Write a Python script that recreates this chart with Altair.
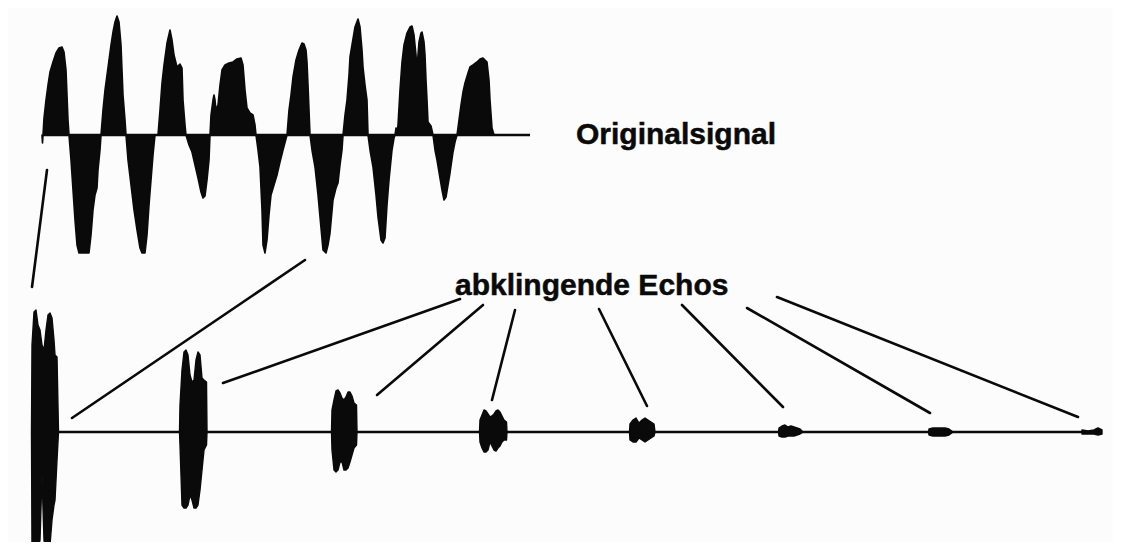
import altair as alt
import pandas as pd

# ---------------- data (figure units, y grows downward) ----------------
# Original signal: outline of the filled waveform around its zero line
wave_x = [42, 42.5, 43, 44, 46, 48, 50, 53, 56, 59, 62, 64, 66, 67, 68, 69,
          71, 73, 75, 77, 79, 84, 89, 91, 93, 95, 97, 98, 100, 101,
          103, 105, 107, 109, 111, 113, 115, 117, 119, 121, 122, 123, 125, 126,
          128, 131, 134, 137, 140, 142, 145, 147, 149, 151, 153, 155,
          158, 160, 162, 164, 167, 170, 172, 174, 177, 180, 182, 183, 185, 186,
          189, 192, 195, 198, 201, 203, 205, 207, 209, 210,
          211, 213, 214, 215, 216, 218, 220, 222, 225, 229, 233, 237, 241, 243, 245, 247, 250, 253, 255, 256,
          258, 260, 262, 263, 265, 267, 269, 271, 274, 277, 280, 283, 287,
          289, 291, 293, 296, 299, 302, 304, 306, 307, 308, 309, 310,
          312, 315, 318, 320, 323, 326, 328, 330, 333, 336, 338, 340, 342, 343,
          345, 347, 349, 350, 352, 355, 358, 360, 362, 363, 365, 367, 368,
          370, 373, 376, 378, 381, 383, 385, 387, 389, 392, 394, 395,
          396, 397, 398, 400, 402, 404, 407, 410, 412, 414, 416, 417, 418, 419, 421, 422, 424, 425, 426, 427, 428, 431, 433,
          435, 437, 440, 442, 444, 446, 448, 450, 453, 455, 457,
          459, 461, 463, 465, 468, 470, 473, 477, 480, 483, 485, 487, 489, 490, 492, 494]
wave_y = [135, 143, 135, 118, 100, 85, 72, 62, 53, 48, 47, 52, 70, 95, 120, 135,
          160, 190, 220, 245, 253, 253, 253, 235, 210, 195, 188, 170, 150, 135,
          110, 90, 75, 60, 45, 32, 22, 16, 22, 45, 70, 95, 120, 135,
          160, 185, 210, 230, 248, 253, 253, 235, 205, 180, 155, 135,
          135, 110, 83, 65, 43, 30, 40, 55, 67, 64, 68, 100, 125, 135,
          145, 152, 165, 178, 192, 198, 196, 180, 160, 135,
          115, 100, 95, 100, 110, 105, 85, 70, 65, 63, 62, 59, 58, 65, 90, 108, 113, 115, 125, 135,
          150, 167, 210, 245, 253, 240, 215, 195, 185, 175, 162, 150, 135,
          110, 95, 77, 60, 50, 43, 44, 50, 62, 85, 110, 135,
          150, 167, 195, 217, 250, 253, 245, 233, 200, 188, 183, 165, 150, 135,
          115, 100, 75, 57, 45, 27, 19, 27, 50, 67, 85, 100, 135,
          150, 167, 195, 217, 240, 243, 238, 205, 180, 150, 138, 135,
          128, 132, 125, 90, 62, 45, 33, 27, 26, 35, 55, 70, 55, 42, 33, 32, 42, 55, 80, 100, 122, 126, 135,
          150, 160, 178, 190, 200, 197, 185, 173, 152, 142, 135,
          120, 105, 92, 83, 73, 67, 65, 62, 59, 58, 60, 62, 80, 100, 128, 135]
wave_zero = 135

# Decaying echoes on the time axis: x, upper and lower envelope per echo
echo_x = [
    [31.5, 32, 34, 36, 38, 40, 42, 44, 46, 48, 50, 52, 54, 55, 57, 58.5],
    [179.5, 180, 182, 184, 186, 188, 190, 192, 194, 196, 198, 200, 202, 204, 206.5, 207],
    [331.5, 332, 334, 336, 338, 340, 342, 344, 346, 348, 350, 352, 354, 356.5, 357],
    [479.5, 480, 482, 484, 486, 488, 490, 492, 494, 496, 498, 500, 502, 504, 506.5, 507],
    [629.5, 630, 633, 636, 639, 642, 645, 648, 651, 654, 655],
    [778.5, 779, 782, 785, 788, 791, 794, 797, 800, 803],
    [928.5, 929, 933, 937, 941, 945, 949, 953],
    [1082, 1088, 1094, 1098, 1102],
]
echo_top = [
    [432, 345, 312, 310, 325, 330, 345, 350, 330, 315, 313, 318, 340, 355, 357, 432],
    [432, 405, 370, 352, 350, 355, 375, 382, 380, 360, 352, 355, 378, 380, 382, 432],
    [432, 410, 400, 391, 390, 393, 398, 400, 397, 392, 392, 396, 403, 405, 432],
    [432, 420, 415, 410, 411, 414, 417, 416, 414, 411, 410, 412, 416, 420, 422, 432],
    [432, 424, 420, 418, 423, 420, 418, 420, 422, 424, 432],
    [432, 428, 426, 425, 427, 426, 427, 428, 429, 432],
    [432, 429, 428, 428, 428, 428, 429, 432],
    [430, 431, 430, 428, 430],
]
echo_bottom = [
    [432, 550, 550, 550, 548, 540, 475, 540, 550, 550, 545, 520, 505, 500, 460, 432],
    [432, 445, 505, 508, 508, 505, 495, 500, 508, 508, 505, 490, 470, 450, 445, 432],
    [432, 450, 470, 472, 470, 462, 462, 470, 470, 468, 462, 455, 448, 445, 432],
    [432, 442, 448, 452, 452, 450, 442, 446, 450, 451, 448, 446, 442, 440, 440, 432],
    [432, 440, 442, 442, 438, 440, 442, 440, 438, 436, 432],
    [432, 436, 437, 437, 436, 436, 436, 435, 434, 432],
    [432, 435, 436, 436, 436, 436, 435, 432],
    [434, 434, 434, 435, 434],
]

# Zero lines of both traces
axis_x1 = [43, 56]
axis_x2 = [530, 1102]
axis_y = [135, 432]

# Connector lines (start x/y -> end x/y)
link_x1 = [47, 305, 460, 483, 515, 599, 682, 747, 777]
link_y1 = [170, 260, 299, 305, 310, 309, 305, 308, 297]
link_x2 = [32, 72, 223, 377, 492, 647, 783, 930, 1078]
link_y2 = [287, 418, 383, 395, 400, 406, 407, 413, 417]

labels = ["Originalsignal", "abklingende Echos"]
label_x = [576, 455]
label_y = [144, 295]

# ---------------- tables ----------------
wave_df = pd.DataFrame({"x": wave_x, "y": wave_y, "base": wave_zero})
rows = []
for i, (xs_, ts, bs) in enumerate(zip(echo_x, echo_top, echo_bottom)):
    for x, t, b in zip(xs_, ts, bs):
        rows.append({"echo": i, "x": x, "top": t, "bottom": b})
echo_df = pd.DataFrame(rows)
axis_df = pd.DataFrame({"x1": axis_x1, "x2": axis_x2, "y": axis_y})
link_df = pd.DataFrame({"x1": link_x1, "y1": link_y1, "x2": link_x2, "y2": link_y2})
label_df = pd.DataFrame({"text": labels, "x": label_x, "y": label_y})

xs = alt.Scale(domain=[8, 1113], nice=False, zero=False)
ys = alt.Scale(domain=[8, 542], nice=False, zero=False, reverse=True)
INK = "#0a0a0a"

wave = alt.Chart(wave_df).mark_area(
    color=INK, interpolate="linear", stroke=INK, strokeWidth=1.6, strokeJoin="round"
).encode(
    x=alt.X("x:Q", scale=xs, axis=None),
    y=alt.Y("y:Q", scale=ys, axis=None),
    y2="base:Q",
)

echoes = alt.Chart(echo_df).mark_area(
    color=INK, interpolate="linear", stroke=INK, strokeWidth=1.4, strokeJoin="round"
).encode(
    x=alt.X("x:Q", scale=xs, axis=None),
    y=alt.Y("top:Q", scale=ys, axis=None),
    y2="bottom:Q",
    detail="echo:N",
)

axes_lines = alt.Chart(axis_df).mark_rule(color=INK, strokeWidth=2.4).encode(
    x=alt.X("x1:Q", scale=xs, axis=None),
    x2="x2:Q",
    y=alt.Y("y:Q", scale=ys, axis=None),
)

links = alt.Chart(link_df).mark_rule(color=INK, strokeWidth=2.6, strokeCap="round").encode(
    x=alt.X("x1:Q", scale=xs, axis=None),
    y=alt.Y("y1:Q", scale=ys, axis=None),
    x2="x2:Q",
    y2="y2:Q",
)

texts = alt.Chart(label_df).mark_text(
    align="left", baseline="alphabetic", font="Liberation Sans",
    fontWeight="bold", fontSize=30, color=INK, stroke=INK, strokeWidth=0.5,
).encode(
    x=alt.X("x:Q", scale=xs, axis=None),
    y=alt.Y("y:Q", scale=ys, axis=None),
    text="text:N",
)

chart = alt.layer(wave, echoes, axes_lines, links, texts).properties(
    width=1105, height=534,
    autosize=alt.AutoSizeParams(type="none"),
    padding=0,
    background="#fcfcfc",
).configure_view(stroke=None)

chart.save("out.html", embed_options={"renderer": "svg", "actions": False})
